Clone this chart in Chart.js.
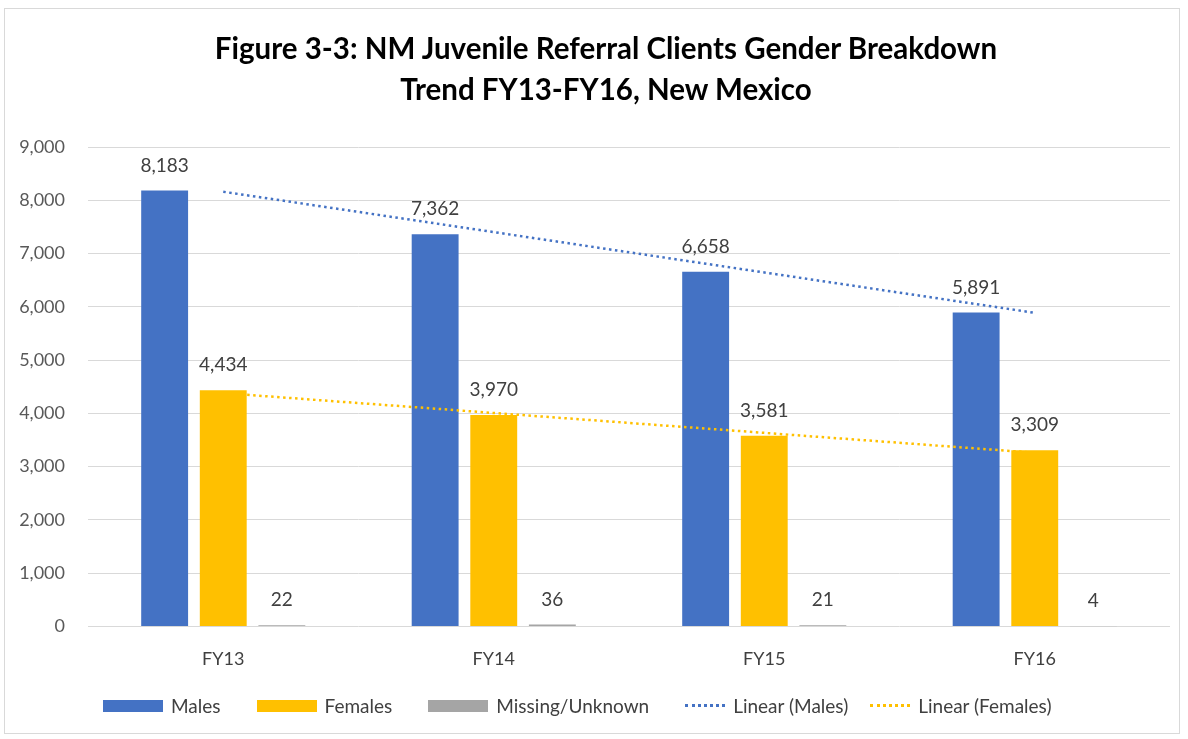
<!DOCTYPE html>
<html>
<head>
<meta charset="utf-8">
<script src="https://cdn.jsdelivr.net/npm/chart.js@4.4.0/dist/chart.umd.min.js"></script>
<style>
    html, body { margin: 0; padding: 0; background: #ffffff; }
    body { width: 1188px; height: 739px; position: relative; overflow: hidden; font-family: Lato, "Open Sans", sans-serif; }
    #frame { position: absolute; left: 4px; top: 8px; width: 1176px; height: 726px; border: 1px solid #d9d9d9; box-sizing: border-box; }
    #wrap { position: absolute; left: 0; top: 0; width: 1188px; height: 739px; }
    #title { position: absolute; left: 0; width: 1212px; top: 27px; text-align: center; font-size: 29.5px; font-weight: bold; line-height: 41px; color: #000; }
    #legend { position: absolute; left: 103px; top: 694px; display: flex; align-items: center; font-size: 19px; color: #404040; white-space: nowrap; }
    .item { display: flex; align-items: center; }
    .box { width: 60px; height: 12px; margin-right: 8px; }
    .dots { width: 40px; height: 0; border-top: 3px dotted; margin-right: 8px; }
</style>
</head>
<body>
<div id="frame"></div>
<div id="wrap"><canvas id="chart"></canvas></div>
<div id="title">Figure 3-3: NM Juvenile Referral Clients Gender Breakdown<br>Trend FY13-FY16, New Mexico</div>
<div id="legend"></div>
<script>
// Datos
const categories = ['FY13', 'FY14', 'FY15', 'FY16'];
const males = [8183, 7362, 6658, 5891];
const females = [4434, 3970, 3581, 3309];
const missing = [22, 36, 21, 4];
// Líneas de tendencia (extremos)
const trendMales = [8160, null, null, 5887];
const trendFemales = [4380, null, null, 3260];
const yTicks = [0, 1000, 2000, 3000, 4000, 5000, 6000, 7000, 8000, 9000];

const colors = { blue: '#4472C4', gold: '#FFC000', grey: '#A5A5A5', text: '#404040', axis: '#595959', grid: '#d9d9d9' };
const family = 'Lato, "Open Sans", sans-serif';

const fmt = v => v.toLocaleString('en-US');

// Etiquetas de valor encima de las barras
const barLabels = {
    id: 'barLabels',
    afterDatasetsDraw(chart) {
        const { ctx } = chart;
        ctx.save();
        ctx.font = `19px ${family}`;
        ctx.fillStyle = colors.text;
        ctx.textAlign = 'center';
        ctx.textBaseline = 'middle';
        chart.data.datasets.forEach((ds, i) => {
            if (ds.type !== 'bar') return;
            chart.getDatasetMeta(i).data.forEach((bar, j) => {
                ctx.fillText(fmt(ds.data[j]), bar.x, bar.y - 25);
            });
        });
        ctx.restore();
    }
};

const barOpts = { categoryPercentage: 0.65, barPercentage: 0.8, order: 2 };
const trendOpts = { borderWidth: 2.5, borderDash: [2.5, 3.5], pointRadius: 0, spanGaps: true, order: 1 };

const canvas = document.getElementById('chart');
new Chart(canvas, {
    data: {
        labels: categories,
        datasets: [
            { type: 'bar', label: 'Males', data: males, backgroundColor: colors.blue, ...barOpts },
            { type: 'bar', label: 'Females', data: females, backgroundColor: colors.gold, ...barOpts },
            { type: 'bar', label: 'Missing/Unknown', data: missing, backgroundColor: colors.grey, ...barOpts },
            { type: 'line', label: 'Linear (Males)', data: trendMales, borderColor: colors.blue, ...trendOpts },
            { type: 'line', label: 'Linear (Females)', data: trendFemales, borderColor: colors.gold, ...trendOpts }
        ]
    },
    options: {
        responsive: true,
        maintainAspectRatio: false,
        animation: false,
        layout: { padding: { left: 0, right: 18, top: 147, bottom: 55 } },
        plugins: {
            legend: { display: false },
            tooltip: { enabled: false },
            title: { display: false }
        },
        scales: {
            x: {
                grid: { display: false },
                border: { display: false },
                ticks: { color: colors.text, padding: 14, font: { family, size: 18 } }
            },
            y: {
                min: 0,
                max: 9000,
                afterBuildTicks: axis => { axis.ticks = yTicks.map(v => ({ value: v })); },
                afterFit: axis => { axis.width = 88; },
                grid: { color: colors.grid, lineWidth: 1, drawTicks: false },
                border: { display: false },
                ticks: { color: colors.axis, padding: 23, callback: v => fmt(v), font: { family, size: 18 } }
            }
        }
    },
    plugins: [barLabels]
});

// Leyenda HTML
const legendItems = [
    { label: 'Males', color: colors.blue, kind: 'box', gap: 36 },
    { label: 'Females', color: colors.gold, kind: 'box', gap: 36 },
    { label: 'Missing/Unknown', color: colors.grey, kind: 'box', gap: 36 },
    { label: 'Linear (Males)', color: colors.blue, kind: 'dots', gap: 22 },
    { label: 'Linear (Females)', color: colors.gold, kind: 'dots', gap: 0 }
];
document.getElementById('legend').innerHTML = legendItems.map(it => `
    <div class="item" style="margin-right:${it.gap}px">
        <span class="${it.kind}" style="${it.kind === 'box' ? 'background' : 'border-color'}:${it.color}"></span>${it.label}
    </div>`).join('');
</script>
</body>
</html>
